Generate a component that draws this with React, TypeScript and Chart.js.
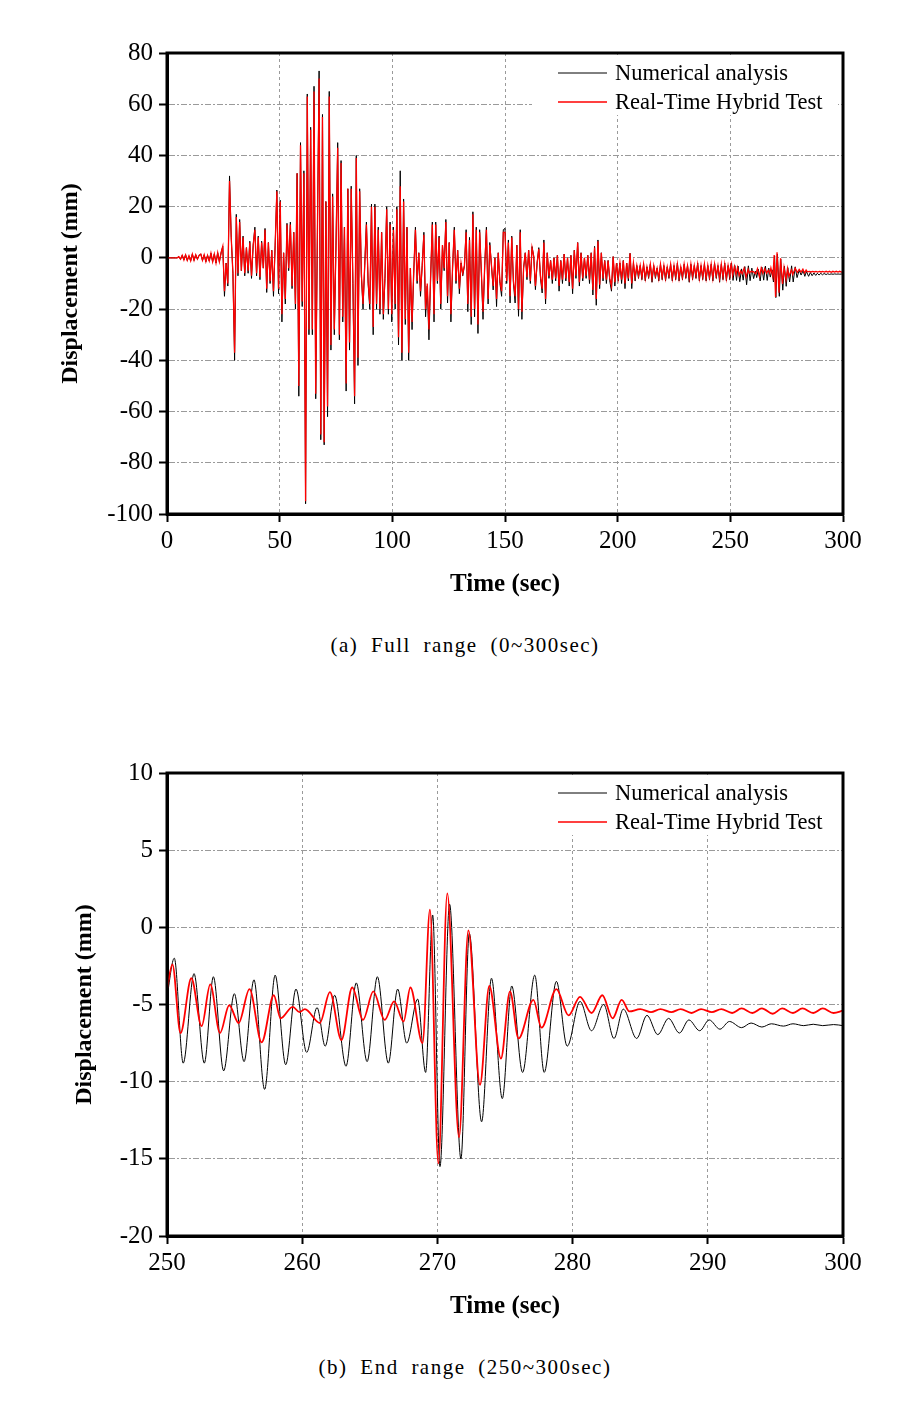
import React, { useEffect, useRef } from "react";
import { Chart, registerables } from "chart.js";

Chart.register(...registerables);

// ---------------- DATA ----------------
const fullStart = 0;
const fullStep = 0.75;

const fullNumerical: number[] = [
  0, 0, 0, 0, 0, 0, 0, 0.5, -0.5, 1, -0.8, 1.2, -1, 0.8, -1.2, 1.5, -1, 1.2, -0.5, 1,
  1.5, -1, 1.2, -1.5, 1, -1.2, 1.8, -1.5, 1.5, -2, 2, -1.5, 2, 4.5, -15, -2, -11, 32, 8, -6,
  -40, 17, -7, 15, -5, 8.5, -7, 4, -6, 6.5, -8, 5, 12, -7, 8.5, -8.5, 6.5, -4, 11.5, -13.5,
  6, -10, 3, -15, 5, 26.5, -14, 22.5, -25, 2, -18, 13.5, -5, 14, -12, 10, -20, 33, -54, 45,
  -19, 34, -96, 64, -30, 51, -30, 67, -55, 10, 73, -71, 56, -73, 22, -62, 65, -36, 25, -30,
  5, 45, -32, 38, -25, 12, -52, 27, -36, 28, -10, -57, 40, -42, 27, -7, -20, -3, 14, -10,
  -20, 21, -30, 21, -20, 12, -22, 10, -24, -8, 20, -22, 14, -25, 12, -20, 20, -34, 34, -40,
  23, -26, 12, -40, -4, -28, -6, 12, -10, 2, -15, -3, 10, -23, -11, -32, -8, 14, -25, 14,
  -10, 8.5, -20, 5, -5, 15, -17.6, 6, -25, -4, 12, -10, 3, -14, -2, -7, -3, 11, -21, 8,
  -26, 18, -23, 12, -29.5, 11, -6, -24, -3, 12, -18, 6, -3, -12.5, 0, -19, 2, -10, -15, 11,
  11.5, -10, 7, -17.6, 8.5, -10, -17.6, 5, -22.8, 11, -24, -4, 2, -8.5, 3, -10, 4.4, 0.6, -12.4, -2,
  4, -8, -13.7, 7, -18, 2, -8, -1, -10, 0, -9, 1, -13, -1, -10, 1.5, -9, 0, -11, 1,
  -14, 3, -8, 6, -11, 2, -9, 0, -8, 1, -10, 2, -14.5, 4.5, -18.5, 7, -12, 2, -9, -1,
  -10, -1, -9, -13, 0.5, -11, -2, -9, -2, -10, -1, -12, -2, -9, 1.8, -12, -2, -9, -3, -8,
  -3, -8.5, -2.5, -9, -3.5, -8, -2.5, -9.5, -3, -8, -4, -9, -2.5, -8.5, -3, -9, -3.5, -8, -2.5, -9,
  -3, -8.5, -2, -9, -3.5, -8.5, -2.5, -8, -3, -9.5, -2.5, -8.5, -3, -8, -2, -9, -3, -8.5, -2.5, -9,
  -3, -8.5, -2.5, -9, -2, -8, -3, -9.5, -2.5, -8.5, -2, -9, -3, -8.5,
];

const fullHybrid: number[] = [
  0, 0, 0, 0, 0, 0, 0, 0.5, -0.5, 1, -0.8, 1.2, -1, 0.8, -1.2, 1.5, -1, 1.2, -0.5, 1,
  1.5, -1, 1.2, -1.5, 1, -1.2, 1.8, -1.5, 1.5, -2, 2, -1.5, 2, 4.5, -13, -2, -10, 30, 8, -6,
  -37, 16, -6, 14, -5, 8, -6, 4, -5, 6, -7, 5, 11, -6, 8, -7.5, 6, -4, 11, -12,
  6, -9, 3, -13, 5, 26, -12, 22, -22, 2, -16, 13, -4, 13, -11, 10, -18, 33, -50, 44,
  -17, 33, -95, 63, -28, 50, -28, 65, -53, 10, 70, -69, 55, -72, 22, -58, 63, -34, 24, -28,
  5, 43, -30, 37, -23, 12, -49, 27, -33, 27, -9, -54, 39, -39, 26, -6, -18, -3, 13, -9,
  -18, 20, -27, 20, -18, 11, -20, 10, -22, -7, 19, -20, 13, -22, 11, -18, 19, -31, 28, -37,
  22, -24, 12, -37, -4, -25, -5, 11, -9, 2, -13, -3, 9, -20, -10, -28, -7, 13, -22, 13,
  -9, 8, -18, 5, -4, 14, -15, 6, -22, -3, 11, -9, 3, -12, -2, -6, -3, 10, -18, 7,
  -23, 17, -20, 11, -26, 10, -5, -21, -3, 11, -16, 5, -3, -11, 0, -16, 2, -9, -13, 10,
  10, -9, 6, -15, 8, -9, -15, 5, -20, 10, -21, -4, 2, -7.5, 3, -9, 4, 0.5, -11, -2,
  3.5, -7, -12, 6, -16, 2, -7, -1, -8.5, 0, -8, 1, -11, -1, -8.5, 1.5, -8, 0, -9.5, 1,
  -12, 3, -7, 6, -9.5, 2, -8, 0, -7, 1, -8.5, 2, -12.5, 4, -16, 6.5, -10.5, 2, -8, -1,
  -8.5, -1, -8, -11, 0.5, -9.5, -2, -8, -2, -8.5, -1, -10, -2, -8, 1.8, -10, -2, -7.5, -3, -7,
  -3, -7.5, -2.5, -8, -3.5, -7, -2.5, -8, -3, -7, -4, -8, -2.5, -7.5, -3, -8, -3.5, -7, -2.5, -8,
  -3, -7.5, -2.5, -8, -3.5, -7.5, -2.5, -7, -3, -8, -2.5, -7.5, -3, -7, -2.5, -8, -3, -7.5, -2.5, -8,
  -3, -7.5, -2.5, -8, -2.5, -7, -3, -8, -2.5, -7.5, -2.5, -8, -3, -7,
];

// End range (250 ~ 300 s): extremes (time, displacement)
const endNumericalTime = [
  250, 250.54, 251.2, 252.0, 252.76, 253.43, 254.19, 254.98, 255.7, 256.43, 257.22, 258.0, 258.78,
  259.54, 260.33, 261.1, 261.7, 262.4, 263.24, 264.0, 264.8, 265.56, 266.37, 267.06, 267.73, 268.54,
  269.13, 269.65, 270.19, 270.9, 271.74, 272.36, 273.27, 274.0, 274.8, 275.5, 276.3, 277.2, 277.9,
  278.8, 279.6, 280.55, 281.4, 282.3, 283.06, 283.75, 284.74, 285.5, 286.3, 287.1, 287.9, 288.6,
  289.4, 290.1, 290.9, 291.6, 292.5, 293.2, 294.0, 294.7, 295.6, 296.3, 297.1, 297.8, 298.5, 299.3, 300,
];
const endNumericalDisp = [
  -4.5, -2.0, -8.8, -3.0, -8.8, -3.2, -9.3, -4.3, -8.7, -3.4, -10.5, -3.1, -8.9,
  -4.0, -8.1, -5.2, -7.7, -4.4, -9.0, -3.6, -8.7, -3.2, -8.8, -4.0, -7.5, -4.65,
  -9.4, 0.8, -15.5, 1.5, -15.0, -0.4, -12.6, -3.3, -11.1, -3.8, -9.4, -3.1, -9.4,
  -3.5, -7.7, -4.8, -6.7, -5.0, -7.2, -5.3, -7.2, -5.7, -6.95, -5.9, -6.85, -6.0,
  -6.7, -6.0, -6.6, -6.1, -6.5, -6.2, -6.46, -6.25, -6.4, -6.25, -6.37, -6.28, -6.37, -6.3, -6.37,
];
const endHybridTime = [
  250, 250.4, 251.0, 251.8, 252.56, 253.2, 253.92, 254.6, 255.3, 256.1, 257.0, 257.9, 258.4,
  259.3, 259.8, 260.2, 261.3, 262.05, 262.9, 263.7, 264.5, 265.26, 266.1, 266.8, 267.5, 268.0,
  268.9, 269.45, 270.07, 270.73, 271.6, 272.29, 273.15, 273.84, 274.7, 275.37, 276.0, 277.1, 277.7,
  278.8, 279.7, 280.55, 281.4, 282.2, 282.96, 283.63, 284.2, 285.0, 285.8, 286.5, 287.3, 288.0,
  288.8, 289.5, 290.3, 291.0, 291.8, 292.5, 293.3, 294.0, 294.8, 295.5, 296.3, 297.0, 297.8, 298.5, 299.3, 300,
];
const endHybridDisp = [
  -4.0, -2.4, -6.85, -3.3, -6.4, -3.7, -6.85, -5.05, -6.2, -4.0, -7.45, -4.4, -5.9,
  -5.15, -5.5, -5.3, -6.2, -4.2, -7.3, -3.9, -6.0, -4.15, -6.0, -4.8, -6.1, -3.9,
  -7.5, 1.15, -15.3, 2.2, -13.6, -0.2, -10.2, -3.8, -8.5, -4.15, -7.2, -4.7, -6.5,
  -4.0, -5.7, -4.5, -5.55, -4.4, -5.9, -4.7, -5.45, -5.3, -5.5, -5.3, -5.5, -5.3,
  -5.55, -5.3, -5.5, -5.3, -5.55, -5.25, -5.55, -5.25, -5.6, -5.25, -5.55, -5.25, -5.55, -5.25, -5.55, -5.4,
];

const seriesNames = ["Numerical analysis", "Real-Time Hybrid Test"];
const seriesColors = ["#000000", "#ff0000"];
const captions = ["(a) Full range (0~300sec)", "(b) End range (250~300sec)"];
const xAxisTitle = "Time (sec)";
const yAxisTitle = "Displacement (mm)";
const fullXRange = [0, 300, 50];
const fullYRange = [-100, 80, 20];
const endXRange = [250, 300, 10];
const endYRange = [-20, 10, 5];

// ---------------- BUILD ----------------
type Pt = { x: number; y: number };
const pairs = (t: number[], v: number[]): Pt[] => t.map((x, i) => ({ x, y: v[i] }));
const sampled = (v: number[]): Pt[] => v.map((y, i) => ({ x: fullStart + i * fullStep, y }));

const fullNumPts = sampled(fullNumerical).concat(pairs(endNumericalTime, endNumericalDisp));
const fullHybPts = sampled(fullHybrid).concat(pairs(endHybridTime, endHybridDisp));
const endNumPts = pairs(endNumericalTime, endNumericalDisp);
const endHybPts = pairs(endHybridTime, endHybridDisp);

const FONT = "'Liberation Serif', 'Times New Roman', Times, serif";
const W = 904;
const H = 610;

const frameLegendPlugin = {
  id: "frameLegend",
  afterDatasetsDraw(chart: any) {
    const { ctx, chartArea: a } = chart;
    ctx.save();
    ctx.fillStyle = "#ffffff";
    ctx.fillRect(532, a.top + 2, 838 - 532, 115 - a.top - 2);
    const rows = [73, 102];
    seriesNames.forEach((name, i) => {
      ctx.strokeStyle = seriesColors[i];
      ctx.lineWidth = i === 0 ? 1 : 1.5;
      ctx.beginPath();
      ctx.moveTo(558, rows[i]);
      ctx.lineTo(607, rows[i]);
      ctx.stroke();
      ctx.fillStyle = "#000";
      ctx.font = `22.5px ${FONT}`;
      ctx.textBaseline = "middle";
      ctx.textAlign = "left";
      ctx.fillText(name, 615, rows[i] + 1);
    });
    ctx.restore();
  },
  afterDraw(chart: any) {
    const { ctx, chartArea: a } = chart;
    ctx.save();
    ctx.strokeStyle = "#000";
    ctx.lineWidth = 3;
    ctx.strokeRect(a.left, a.top, a.right - a.left, a.bottom - a.top);
    ctx.restore();
  },
};

function makeConfig(o: {
  num: Pt[];
  hyb: Pt[];
  xr: number[];
  yr: number[];
  plotBottom: number;
  yTitleOffset: number;
  smooth: boolean;
}): any {
  const xHeight = H - o.plotBottom;
  const tickFont = { family: FONT, size: 25 };
  return {
    type: "line",
    data: {
      datasets: [
        {
          label: seriesNames[1],
          data: o.hyb,
          borderColor: seriesColors[1],
          borderWidth: o.smooth ? 1.8 : 1.3,
          pointRadius: 0,
          tension: 0,
          cubicInterpolationMode: o.smooth ? "monotone" : "default",
          order: 0,
        },
        {
          label: seriesNames[0],
          data: o.num,
          borderColor: seriesColors[0],
          borderWidth: 1,
          pointRadius: 0,
          tension: 0,
          cubicInterpolationMode: o.smooth ? "monotone" : "default",
          order: 1,
        },
      ],
    },
    options: {
      animation: false,
      responsive: false,
      events: [],
      parsing: false,
      layout: { padding: { left: 0, top: 53, right: W - 843, bottom: 0 } },
      plugins: { legend: { display: false }, tooltip: { enabled: false }, title: { display: false } },
      scales: {
        x: {
          type: "linear",
          min: o.xr[0],
          max: o.xr[1],
          afterFit: (s: any) => {
            s.height = xHeight;
          },
          ticks: { stepSize: o.xr[2], font: tickFont, color: "#000", padding: 4, maxRotation: 0 },
          grid: { color: "#9a9a9a", lineWidth: 1, tickLength: 8, tickColor: "#000", tickWidth: 2, tickBorderDash: [] },
          border: { display: true, color: "#000", width: 3, dash: [3, 3] },
          title: {
            display: true,
            text: xAxisTitle,
            font: { family: FONT, size: 25, weight: "bold" },
            color: "#000",
            padding: { top: 0, bottom: xHeight - 86 },
          },
        },
        y: {
          type: "linear",
          min: o.yr[0],
          max: o.yr[1],
          afterFit: (s: any) => {
            s.width = 167;
          },
          ticks: { stepSize: o.yr[2], font: tickFont, color: "#000", padding: 6 },
          grid: { color: "#9a9a9a", lineWidth: 1, tickLength: 8, tickColor: "#000", tickWidth: 2, tickBorderDash: [] },
          border: { display: true, color: "#000", width: 3, dash: [6, 2, 2, 2] },
          title: {
            display: true,
            text: yAxisTitle,
            font: { family: FONT, size: 24, weight: "bold" },
            color: "#000",
            padding: { top: o.yTitleOffset, bottom: 0 },
          },
        },
      },
    },
    plugins: [frameLegendPlugin],
  };
}

function DispChart({ cfg }: { cfg: () => any }) {
  const ref = useRef<HTMLCanvasElement | null>(null);
  useEffect(() => {
    if (!ref.current) return;
    const chart = new Chart(ref.current, cfg());
    return () => chart.destroy();
  }, []);
  return <canvas ref={ref} width={W} height={H} style={{ display: "block", width: W, height: H }} />;
}

const captionStyle = (top: number): React.CSSProperties => ({
  position: "absolute",
  left: 165,
  top,
  width: 600,
  textAlign: "center",
  fontFamily: FONT,
  fontSize: 21,
  lineHeight: "24px",
  letterSpacing: "1.5px",
  wordSpacing: "6px",
  color: "#000",
});

export default function App() {
  return (
    <div style={{ position: "absolute", left: 0, top: 0, width: W, height: 1407, background: "#fff" }}>
      <div style={{ position: "absolute", left: 0, top: 0 }}>
        <DispChart
          cfg={() =>
            makeConfig({ num: fullNumPts, hyb: fullHybPts, xr: fullXRange, yr: fullYRange, plotBottom: 514, yTitleOffset: 56, smooth: false })
          }
        />
      </div>
      <div style={captionStyle(633)}>{captions[0]}</div>
      <div style={{ position: "absolute", left: 0, top: 720 }}>
        <DispChart
          cfg={() =>
            makeConfig({ num: endNumPts, hyb: endHybPts, xr: endXRange, yr: endYRange, plotBottom: 516, yTitleOffset: 70, smooth: true })
          }
        />
      </div>
      <div style={captionStyle(1355)}>{captions[1]}</div>
    </div>
  );
}
